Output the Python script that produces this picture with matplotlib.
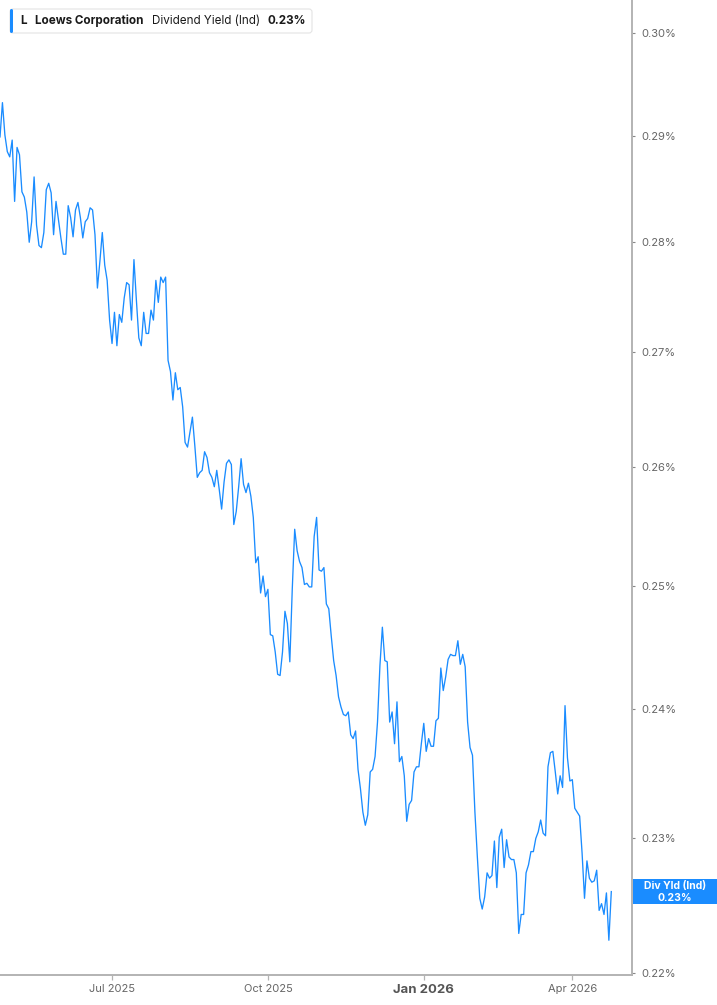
import matplotlib
matplotlib.use('Agg')
import matplotlib.pyplot as plt
import matplotlib.transforms as mtransforms
from matplotlib.ticker import FixedLocator, FixedFormatter, NullLocator
from matplotlib.patches import FancyBboxPatch, Rectangle
import numpy as np
import pandas as pd

plt.rcParams['font.family'] = ['Inter', 'DejaVu Sans']

# ---------------- data ----------------
holidays = ['2025-05-26', '2025-06-19', '2025-07-04', '2025-09-01', '2025-11-27',
            '2025-12-25', '2026-01-01', '2026-01-19', '2026-02-16', '2026-04-03']

yield_pct = [
    0.2899, 0.2932, 0.2901, 0.2885, 0.2880, 0.2896, 0.2838, 0.2889, 0.2882, 0.2847,
    0.2842, 0.2828, 0.2800, 0.2819, 0.2861, 0.2816, 0.2797, 0.2795, 0.2809, 0.2849,
    0.2855, 0.2846, 0.2807, 0.2838, 0.2821, 0.2804, 0.2789, 0.2789, 0.2834, 0.2823,
    0.2805, 0.2830, 0.2837, 0.2823, 0.2804, 0.2819, 0.2822, 0.2832, 0.2830, 0.2807,
    0.2758, 0.2782, 0.2809, 0.2779, 0.2765, 0.2729, 0.2708, 0.2736, 0.2706, 0.2734,
    0.2727, 0.2749, 0.2763, 0.2761, 0.2729, 0.2784, 0.2747, 0.2713, 0.2706, 0.2736,
    0.2717, 0.2717, 0.2738, 0.2729, 0.2765, 0.2745, 0.2768, 0.2763, 0.2768, 0.2693,
    0.2683, 0.2658, 0.2682, 0.2667, 0.2669, 0.2652, 0.2621, 0.2617, 0.2630, 0.2643,
    0.2618, 0.2591, 0.2595, 0.2597, 0.2613, 0.2608, 0.2595, 0.2591, 0.2583, 0.2597,
    0.2581, 0.2564, 0.2587, 0.2603, 0.2606, 0.2602, 0.2551, 0.2562, 0.2583, 0.2607,
    0.2585, 0.2578, 0.2586, 0.2575, 0.2557, 0.2519, 0.2524, 0.2494, 0.2508, 0.2491,
    0.2497, 0.2460, 0.2459, 0.2446, 0.2428, 0.2427, 0.2446, 0.2479, 0.2469, 0.2438,
    0.2497, 0.2547, 0.2529, 0.2520, 0.2515, 0.2501, 0.2502, 0.2499, 0.2499, 0.2541,
    0.2557, 0.2513, 0.2512, 0.2515, 0.2485, 0.2481, 0.2459, 0.2439, 0.2427, 0.2410,
    0.2402, 0.2396, 0.2395, 0.2398, 0.2380, 0.2377, 0.2383, 0.2353, 0.2338, 0.2320,
    0.2310, 0.2318, 0.2351, 0.2353, 0.2363, 0.2390, 0.2435, 0.2466, 0.2439, 0.2438,
    0.2390, 0.2398, 0.2373, 0.2406, 0.2359, 0.2363, 0.2348, 0.2313, 0.2326, 0.2329,
    0.2351, 0.2355, 0.2355, 0.2373, 0.2389, 0.2367, 0.2377, 0.2371, 0.2371, 0.2391,
    0.2393, 0.2433, 0.2415, 0.2426, 0.2440, 0.2444, 0.2443, 0.2443, 0.2455, 0.2436,
    0.2444, 0.2434, 0.2390, 0.2370, 0.2364, 0.2320, 0.2286, 0.2255, 0.2247, 0.2256,
    0.2274, 0.2270, 0.2272, 0.2298, 0.2263, 0.2301, 0.2307, 0.2278, 0.2299, 0.2286,
    0.2284, 0.2284, 0.2274, 0.2229, 0.2243, 0.2243, 0.2274, 0.2280, 0.2290, 0.2290,
    0.2300, 0.2305, 0.2314, 0.2304, 0.2302, 0.2355, 0.2366, 0.2367, 0.2351, 0.2334,
    0.2348, 0.2339, 0.2403, 0.2362, 0.2344, 0.2345, 0.2323, 0.2320, 0.2317, 0.2289,
    0.2255, 0.2283, 0.2270, 0.2267, 0.2268, 0.2276, 0.2246, 0.2251, 0.2243, 0.2259,
    0.2224, 0.2260,
]

tick_months = ['2025-07-01', '2025-10-01', '2026-01-01', '2026-04-01']
tick_labels = ['Jul 2025', 'Oct 2025', 'Jan 2026', 'Apr 2026']
y_ticks = [0.22, 0.23, 0.24, 0.25, 0.26, 0.27, 0.28, 0.29, 0.30]
y_tick_labels = ['%.2f%%' % v for v in y_ticks]

ticker_sym = 'L'
company = 'Loews Corporation'
metric = 'Dividend Yield (Ind)'
last_label = '%.2f%%' % yield_pct[-1]

dates = pd.bdate_range(end='2026-04-24', periods=len(yield_pct), freq='C', holidays=holidays)

# ---------------- figure ----------------
W, H = 717, 1005
BLUE = '#1a8cff'
AXIS_GRAY = '#b3b3b3'
TEXT_GRAY = '#666666'

fig = plt.figure(figsize=(W / 100, H / 100), dpi=100)
ax_bottom_px = 974.5
ax_right_px = 632
ax = fig.add_axes([0, 1 - ax_bottom_px / H, ax_right_px / W, ax_bottom_px / H])

x = np.arange(len(yield_pct))
ax.plot(x, yield_pct, color=BLUE, lw=0.95, solid_joinstyle='round')

ax.set_yscale('log')
ax.set_ylim(0.2199, 0.3033)
ax.set_xlim(0, (len(yield_pct) - 1) * ax_right_px / 611.3)

# y axis on the right
ax.yaxis.tick_right()
ax.yaxis.set_major_locator(FixedLocator(y_ticks))
ax.yaxis.set_major_formatter(FixedFormatter(y_tick_labels))
ax.yaxis.set_minor_locator(NullLocator())
ax.tick_params(axis='y', which='major', direction='out', length=2.5, width=0.8,
               color='#888888', pad=4.5, labelsize=8, labelcolor=TEXT_GRAY)

# x axis
tick_idx = [int(dates.searchsorted(pd.Timestamp(m))) for m in tick_months]
ax.set_xticks(tick_idx)
ax.set_xticklabels(tick_labels)
ax.xaxis.set_minor_locator(NullLocator())
ax.tick_params(axis='x', direction='out', length=3.8, width=0.9, color=AXIS_GRAY,
               pad=3.0, labelsize=8, labelcolor=TEXT_GRAY)
for lbl in ax.get_xticklabels():
    if lbl.get_text().startswith('Jan'):
        lbl.set_fontweight('bold')
        lbl.set_fontsize(9.5)
        lbl.set_color('#555555')

for side in ['left', 'top']:
    ax.spines[side].set_visible(False)
for side in ['right', 'bottom']:
    ax.spines[side].set_color(AXIS_GRAY)
    ax.spines[side].set_linewidth(1.4)
ax.set_facecolor('white')

# pixel transform (origin top-left)
px = mtransforms.Affine2D().scale(1, -1).translate(0, H)
renderer = fig.canvas.get_renderer()

# legend texts, chained left to right
ty = 20.5
parts = [(ticker_sym, 'bold', 20, 0), (company, 'bold', 35, 8),
         (metric, 'normal', None, 8), (last_label, 'bold', None, 0)]
cur = 20
text_end = cur
for s, wgt, start, gap in parts:
    if start is not None:
        cur = start
    t = fig.text(cur, ty, s, transform=px, fontsize=8.4, fontweight=wgt,
                 color='#1a1a1a', va='center', ha='left', zorder=5)
    wpx = t.get_window_extent(renderer).width
    text_end = cur + wpx
    cur = text_end + gap

box_right = text_end + 6
leg = FancyBboxPatch((10, 9), box_right - 10, 24, boxstyle='round,pad=0,rounding_size=3',
                     facecolor='white', edgecolor='#e4e4e4', lw=0.8, transform=px, zorder=3)
fig.add_artist(leg)
bar = FancyBboxPatch((10, 9), 3, 24, boxstyle='round,pad=0,rounding_size=1.5',
                     facecolor=BLUE, edgecolor='none', transform=px, zorder=4)
fig.add_artist(bar)

# last value badge on the right axis
y_disp = ax.transData.transform((0, yield_pct[-1]))[1]
y_top = H - y_disp  # top-origin pixel
badge = Rectangle((633, y_top - 12.5), W - 633, 25, facecolor=BLUE,
                  edgecolor='none', transform=px)
fig.add_artist(badge)
fig.text(675, y_top - 6, 'Div Yld (Ind)', transform=px, fontsize=7.5,
         fontweight='bold', color='white', ha='center', va='center')
fig.text(675, y_top + 6, last_label, transform=px, fontsize=7.5,
         fontweight='bold', color='white', ha='center', va='center')

fig.savefig('out.png', dpi=100, facecolor='white')
